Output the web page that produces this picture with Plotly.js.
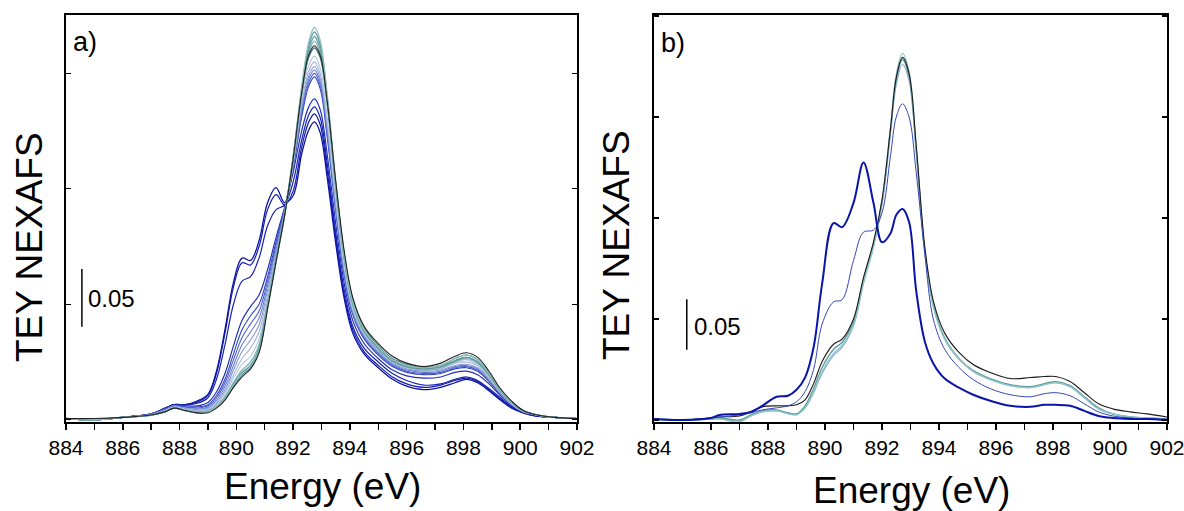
<!DOCTYPE html>
<html><head><meta charset="utf-8">
<script src="https://cdn.plot.ly/plotly-3.0.1.min.js"></script>
<style>html,body{margin:0;padding:0;background:#fff}#chart{width:1184px;height:511px}</style>
</head><body><div id="chart"></div>
<script>
// ---------- Panel a) data ----------
const energyA = [884,885,886,887,887.5,887.8,888.2,888.6,889,889.3,889.6,889.9,890.2,890.5,890.8,891.1,891.4,891.7,892.0,892.3,892.55,892.75,892.95,893.2,893.5,893.8,894.1,894.5,895,895.5,896,896.6,897.2,897.7,898.1,898.5,898.9,899.3,899.7,900.1,900.6,901.2,902];
const a_B1 = [0.001,0.000,0.002,0.005,0.010,0.013,0.013,0.016,0.022,0.042,0.078,0.119,0.140,0.138,0.155,0.188,0.201,0.188,0.194,0.230,0.251,0.258,0.249,0.210,0.153,0.105,0.075,0.057,0.045,0.035,0.029,0.026,0.028,0.032,0.035,0.032,0.025,0.017,0.010,0.006,0.003,0.002,0.001];
const a_B2 = [0.001,0.000,0.002,0.005,0.010,0.013,0.013,0.015,0.021,0.040,0.075,0.115,0.136,0.134,0.150,0.182,0.195,0.186,0.198,0.236,0.258,0.265,0.256,0.216,0.158,0.108,0.078,0.059,0.047,0.037,0.031,0.028,0.030,0.034,0.036,0.033,0.026,0.018,0.011,0.006,0.003,0.002,0.001];
const a_B3 = [0.001,0.000,0.002,0.005,0.010,0.013,0.013,0.014,0.019,0.035,0.065,0.100,0.120,0.124,0.140,0.168,0.182,0.186,0.206,0.242,0.264,0.271,0.262,0.222,0.162,0.112,0.081,0.062,0.050,0.040,0.034,0.030,0.031,0.035,0.037,0.034,0.027,0.019,0.011,0.006,0.003,0.002,0.001];
const a_B4 = [0.001,0.000,0.002,0.005,0.010,0.013,0.012,0.012,0.015,0.024,0.040,0.064,0.086,0.098,0.108,0.130,0.158,0.184,0.214,0.250,0.271,0.278,0.269,0.230,0.170,0.118,0.086,0.066,0.053,0.043,0.038,0.036,0.037,0.041,0.042,0.039,0.031,0.021,0.012,0.007,0.004,0.002,0.001];
const a_G6 = [0.001,0.000,0.002,0.005,0.009,0.012,0.011,0.011,0.013,0.021,0.035,0.057,0.078,0.090,0.100,0.124,0.154,0.183,0.218,0.262,0.289,0.297,0.287,0.245,0.181,0.125,0.091,0.070,0.056,0.046,0.041,0.039,0.040,0.044,0.045,0.042,0.033,0.022,0.013,0.007,0.004,0.002,0.001];
const a_G5 = [0.001,0.000,0.002,0.005,0.009,0.012,0.011,0.010,0.012,0.019,0.032,0.052,0.071,0.083,0.094,0.120,0.151,0.182,0.219,0.265,0.292,0.300,0.290,0.248,0.183,0.127,0.092,0.071,0.057,0.047,0.042,0.040,0.041,0.045,0.046,0.043,0.034,0.022,0.013,0.007,0.004,0.002,0.001];
const a_G4 = [0.001,0.000,0.002,0.005,0.009,0.012,0.010,0.009,0.011,0.017,0.029,0.047,0.065,0.076,0.088,0.116,0.148,0.181,0.220,0.268,0.295,0.303,0.293,0.251,0.185,0.129,0.093,0.072,0.058,0.048,0.043,0.041,0.042,0.046,0.047,0.044,0.034,0.023,0.013,0.007,0.004,0.002,0.001];
const a_G3 = [0.001,0.000,0.002,0.004,0.008,0.011,0.010,0.009,0.010,0.015,0.026,0.043,0.059,0.069,0.082,0.112,0.145,0.180,0.221,0.271,0.298,0.306,0.296,0.254,0.187,0.130,0.094,0.073,0.059,0.049,0.044,0.042,0.043,0.047,0.048,0.045,0.035,0.023,0.013,0.007,0.004,0.002,0.001];
const a_G2 = [0.001,0.000,0.002,0.004,0.008,0.011,0.009,0.008,0.009,0.014,0.024,0.039,0.053,0.062,0.076,0.108,0.142,0.179,0.222,0.274,0.302,0.310,0.300,0.258,0.190,0.132,0.096,0.074,0.060,0.050,0.045,0.043,0.044,0.049,0.050,0.047,0.036,0.024,0.014,0.007,0.004,0.002,0.001];
const a_G1 = [0.001,0.000,0.002,0.004,0.008,0.011,0.009,0.007,0.008,0.013,0.022,0.036,0.048,0.055,0.070,0.104,0.140,0.178,0.224,0.278,0.307,0.315,0.305,0.262,0.193,0.134,0.097,0.075,0.061,0.051,0.046,0.044,0.045,0.050,0.052,0.048,0.037,0.024,0.014,0.007,0.004,0.002,0.001];
const a_T5 = [0.001,0.000,0.002,0.004,0.007,0.010,0.008,0.006,0.007,0.011,0.018,0.029,0.039,0.045,0.059,0.097,0.137,0.177,0.226,0.282,0.314,0.322,0.314,0.274,0.205,0.144,0.104,0.080,0.064,0.053,0.048,0.045,0.047,0.053,0.056,0.052,0.040,0.026,0.015,0.008,0.004,0.002,0.001];
const a_T4 = [0.001,0.000,0.002,0.004,0.007,0.010,0.008,0.007,0.008,0.012,0.020,0.032,0.043,0.050,0.065,0.101,0.139,0.177,0.225,0.281,0.317,0.328,0.318,0.275,0.202,0.140,0.100,0.076,0.061,0.051,0.046,0.043,0.045,0.050,0.053,0.049,0.038,0.025,0.015,0.008,0.004,0.002,0.001];
const a_T3 = [0.001,0.000,0.002,0.004,0.007,0.010,0.008,0.006,0.007,0.011,0.019,0.030,0.040,0.046,0.061,0.099,0.138,0.177,0.226,0.284,0.320,0.332,0.321,0.277,0.203,0.141,0.101,0.077,0.062,0.051,0.046,0.044,0.046,0.051,0.054,0.050,0.039,0.025,0.015,0.008,0.004,0.002,0.001];
const a_T2 = [0.001,0.000,0.002,0.004,0.007,0.010,0.008,0.006,0.007,0.011,0.019,0.031,0.041,0.047,0.062,0.100,0.139,0.178,0.227,0.286,0.324,0.336,0.325,0.279,0.204,0.141,0.101,0.077,0.062,0.051,0.046,0.044,0.046,0.051,0.054,0.050,0.039,0.026,0.015,0.008,0.004,0.002,0.001];
const a_T1 = [0.001,0.000,0.002,0.004,0.007,0.010,0.008,0.006,0.007,0.011,0.019,0.030,0.040,0.046,0.060,0.098,0.138,0.178,0.228,0.288,0.327,0.340,0.329,0.282,0.206,0.142,0.102,0.078,0.063,0.052,0.047,0.045,0.047,0.053,0.056,0.052,0.040,0.026,0.015,0.008,0.004,0.002,0.001];
const a_K1 = [0.001,0.001,0.002,0.004,0.007,0.010,0.008,0.006,0.006,0.010,0.017,0.028,0.037,0.044,0.058,0.096,0.137,0.177,0.226,0.283,0.316,0.324,0.316,0.276,0.207,0.146,0.106,0.081,0.066,0.055,0.049,0.046,0.049,0.055,0.058,0.054,0.042,0.027,0.016,0.008,0.004,0.002,0.001];

// ---------- Panel b) data ----------
const energyB = [884,885,886,886.3,887,887.4,887.8,888.3,888.7,889,889.3,889.6,889.9,890.3,890.6,891.0,891.35,891.7,892.0,892.3,892.5,892.72,892.95,893.2,893.5,893.8,894.2,894.7,895.2,895.8,896.5,897.2,897.7,898.1,898.6,899.1,899.6,900.1,900.7,901.3,902];
const b_Lb = [0.001,0.000,0.001,0.001,-0.001,0.004,0.008,0.009,0.007,0.006,0.012,0.027,0.046,0.064,0.072,0.093,0.135,0.171,0.213,0.284,0.332,0.352,0.336,0.266,0.167,0.113,0.080,0.060,0.048,0.040,0.034,0.032,0.035,0.037,0.033,0.022,0.011,0.006,0.003,0.002,0.001];
const b_Tb2 = [0.001,0.000,0.001,0.002,0.000,0.005,0.009,0.010,0.007,0.006,0.014,0.031,0.052,0.070,0.077,0.097,0.139,0.174,0.216,0.288,0.337,0.357,0.340,0.268,0.168,0.114,0.081,0.061,0.049,0.041,0.035,0.033,0.036,0.038,0.034,0.023,0.012,0.006,0.003,0.002,0.001];
const b_Tb1 = [0.001,0.000,0.001,0.001,-0.002,0.004,0.008,0.009,0.006,0.005,0.012,0.028,0.048,0.066,0.074,0.094,0.137,0.172,0.215,0.290,0.342,0.363,0.345,0.270,0.166,0.112,0.080,0.061,0.048,0.040,0.034,0.032,0.035,0.037,0.033,0.022,0.011,0.006,0.003,0.002,0.001];
const b_Kb = [0.001,0.000,0.002,0.003,0.004,0.008,0.013,0.014,0.014,0.015,0.020,0.036,0.058,0.075,0.080,0.100,0.141,0.176,0.218,0.289,0.339,0.359,0.343,0.272,0.172,0.118,0.086,0.067,0.055,0.047,0.041,0.042,0.043,0.043,0.038,0.027,0.016,0.011,0.008,0.006,0.003];
const b_thin = [0.001,0.000,0.002,0.003,0.005,0.007,0.010,0.012,0.014,0.018,0.028,0.050,0.095,0.117,0.119,0.158,0.186,0.188,0.205,0.262,0.300,0.313,0.300,0.245,0.165,0.100,0.070,0.052,0.040,0.031,0.025,0.023,0.026,0.027,0.024,0.016,0.008,0.004,0.002,0.001,0.001];
const b_thick = [0.001,0.000,0.002,0.005,0.006,0.008,0.014,0.023,0.024,0.030,0.042,0.072,0.135,0.195,0.191,0.215,0.255,0.215,0.176,0.185,0.203,0.209,0.196,0.128,0.078,0.056,0.041,0.032,0.025,0.019,0.014,0.013,0.015,0.015,0.014,0.009,0.004,0.002,0.001,0.001,0.000];

// ---------- Labels ----------
const panelLabels = ['a)', 'b)'];
const xTitle = 'Energy (eV)';
const yTitle = 'TEY NEXAFS';
const scaleLabel = '0.05';
const scaleSize = 0.05;

// ---------- Styles ----------
const FONT = 'Liberation Sans, Arial, sans-serif';
const seriesA = [
  [a_B1, '#0a12a4', 1.3], [a_B2, '#1019aa', 1.2], [a_B3, '#1822b0', 1.2], [a_B4, '#2230b8', 1.2],
  [a_G6, '#3343c0', 1.1], [a_G5, '#4c5ec8', 1.1], [a_G4, '#687bd0', 1.1], [a_G3, '#8597d6', 1.1],
  [a_G2, '#a2b3dc', 1.1], [a_G1, '#b5c9de', 1.1],
  [a_T5, '#4a7c7e', 1.3], [a_T4, '#88b4bc', 1.4], [a_T3, '#6ea5a8', 1.4], [a_T2, '#5d9a9c', 1.4], [a_T1, '#8fc0c0', 1.3],
  [a_K1, '#222222', 1.1]
];
const seriesB = [
  [b_Lb, '#8ea8da', 1.2], [b_Tb2, '#5f9a9a', 1.4], [b_Tb1, '#8ec8c8', 1.3], [b_Kb, '#1a1a1a', 1.1],
  [b_thin, '#3846b8', 1.0], [b_thick, '#0a14a8', 2.0]
];

const traces = [];
seriesA.forEach(([y, c, w]) => traces.push({x: energyA, y: y, xaxis: 'x', yaxis: 'y', type: 'scatter', mode: 'lines',
  line: {color: c, width: w, shape: 'spline', smoothing: 1}, hoverinfo: 'skip', showlegend: false}));
seriesB.forEach(([y, c, w]) => traces.push({x: energyB, y: y, xaxis: 'x2', yaxis: 'y2', type: 'scatter', mode: 'lines',
  line: {color: c, width: w, shape: 'spline', smoothing: 1}, hoverinfo: 'skip', showlegend: false}));

const W = 1184, H = 511;
const yDom = [1 - 422 / H, 1 - 15 / H];
const xAxisBase = {
  range: [884, 902], dtick: 2, tick0: 884, ticks: 'outside', ticklen: 6, tickwidth: 1.5, tickcolor: '#000',
  minor: {dtick: 1, ticks: 'outside', ticklen: 6, tickwidth: 1.5, tickcolor: '#000'},
  showline: true, linecolor: '#000', linewidth: 2, mirror: true, showgrid: false, zeroline: false,
  ticklabeloverflow: 'allow',
  tickfont: {family: FONT, size: 21, color: '#000'}, fixedrange: true
};
const yAxisBase = {
  dtick: 0.1, tick0: 0, ticks: 'inside', ticklen: 5, tickwidth: 1.2, tickcolor: '#000',
  showticklabels: false, showline: true, linecolor: '#000', linewidth: 2, mirror: 'ticks',
  showgrid: false, zeroline: false, domain: yDom, fixedrange: true
};

const layout = {
  width: W, height: H, margin: {l: 0, r: 0, t: 0, b: 0},
  paper_bgcolor: '#fff', plot_bgcolor: '#fff', showlegend: false,
  xaxis: Object.assign({}, xAxisBase, {domain: [66 / W, 577 / W], anchor: 'y'}),
  yaxis: Object.assign({}, yAxisBase, {range: [-0.002, 0.3506], anchor: 'x'}),
  xaxis2: Object.assign({}, xAxisBase, {domain: [654 / W, 1167 / W], anchor: 'y2'}),
  yaxis2: Object.assign({}, yAxisBase, {range: [-0.002, 0.401], anchor: 'x2'}),
  shapes: [
    {type: 'line', xref: 'x', yref: 'y', x0: 884.56, x1: 884.56, y0: 0.0805, y1: 0.0805 + scaleSize, line: {color: '#000', width: 1.5}},
    {type: 'line', xref: 'x2', yref: 'y2', x0: 885.15, x1: 885.15, y0: 0.0695, y1: 0.0695 + scaleSize, line: {color: '#000', width: 1.5}}
  ],
  annotations: [
    {text: panelLabels[0], xref: 'paper', yref: 'paper', x: 71 / W, y: 1 - 42 / H, xanchor: 'left', yanchor: 'middle', showarrow: false, font: {family: FONT, size: 27, color: '#000'}},
    {text: panelLabels[1], xref: 'paper', yref: 'paper', x: 659 / W, y: 1 - 43 / H, xanchor: 'left', yanchor: 'middle', showarrow: false, font: {family: FONT, size: 27, color: '#000'}},
    {text: scaleLabel, xref: 'x', yref: 'y', x: 884.72, y: 0.105, xanchor: 'left', yanchor: 'middle', showarrow: false, font: {family: FONT, size: 24, color: '#000'}},
    {text: scaleLabel, xref: 'x2', yref: 'y2', x: 885.33, y: 0.093, xanchor: 'left', yanchor: 'middle', showarrow: false, font: {family: FONT, size: 24, color: '#000'}},
    {text: xTitle, xref: 'paper', yref: 'paper', x: 322 / W, y: 1 - 486 / H, xanchor: 'center', yanchor: 'middle', showarrow: false, font: {family: FONT, size: 37, color: '#000'}},
    {text: xTitle, xref: 'paper', yref: 'paper', x: 911 / W, y: 1 - 490 / H, xanchor: 'center', yanchor: 'middle', showarrow: false, font: {family: FONT, size: 37, color: '#000'}},
    {text: yTitle, xref: 'paper', yref: 'paper', x: 29 / W, y: 1 - 247 / H, xanchor: 'center', yanchor: 'middle', textangle: -90, showarrow: false, font: {family: FONT, size: 37, color: '#000'}},
    {text: yTitle, xref: 'paper', yref: 'paper', x: 617 / W, y: 1 - 245 / H, xanchor: 'center', yanchor: 'middle', textangle: -90, showarrow: false, font: {family: FONT, size: 37, color: '#000'}}
  ]
};

Plotly.newPlot('chart', traces, layout, {staticPlot: true, displayModeBar: false});
</script>
</body></html>
